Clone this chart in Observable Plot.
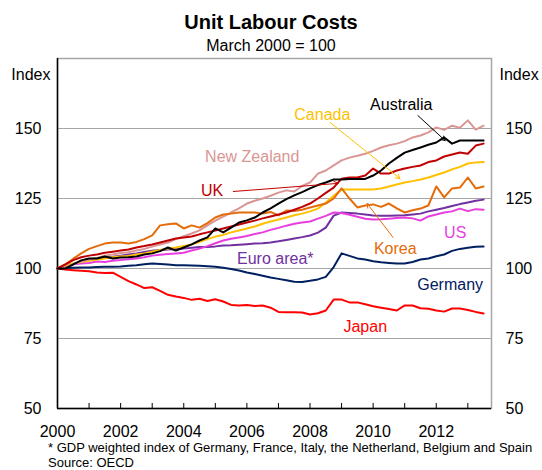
<!DOCTYPE html>
<html><head><meta charset="utf-8">
<script src="https://cdn.jsdelivr.net/npm/d3@7"></script>
<script src="https://cdn.jsdelivr.net/npm/@observablehq/plot@0.6"></script>
<style>
body{margin:0;width:542px;height:470px;position:relative;background:#fff;font-family:"Liberation Sans",Arial,sans-serif;color:#000;overflow:hidden}
#title{position:absolute;left:0;width:542px;top:10px;text-align:center;font-weight:bold;font-size:20px;line-height:24px}
#subtitle{position:absolute;left:0;width:542px;top:36px;text-align:center;font-size:16px;line-height:20px}
#chart{position:absolute;left:0;top:54px}
#note{position:absolute;left:48px;top:440px;font-size:13px;line-height:15px;white-space:nowrap}
</style></head>
<body>
<div id="title">Unit Labour Costs</div>
<div id="subtitle">March 2000 = 100</div>
<div id="chart"></div>
<div id="note">* GDP weighted index of Germany, France, Italy, the Netherland, Belgium and Spain<br>Source: OECD</div>
<script>
// Quarterly observations, March 2000 to September 2013
const quarters = d3.range(55).map(i => 2000 + i / 4);

const japan = [100,99.6,99.4,99.2, 99.0,98.6,98.4,98.5, 97.0,95.5,94.3,93.0, 93.3,92.0,90.6,90.0,
  89.5,88.8,89.2,88.4, 89.0,88.2,87.0,86.8, 87.0,86.6,86.8,86.0, 84.5,84.4,84.4,84.3,
  83.6,84.0,85.0,88.9, 88.9,87.9,87.9,87.2, 86.5,86.0,85.5,85.0, 86.8,86.8,85.8,85.6,
  85.0,84.6,85.7,85.7, 85.2,84.5,83.9];
const germany = [100,100.2,100.3,100.4, 100.4,100.5,100.6,100.6, 100.7,101.0,101.2,101.5, 101.8,101.6,101.4,101.2,
  101.2,101.1,101.0,100.8, 100.6,100.3,99.8,99.3, 98.6,98.0,97.4,96.8, 96.3,95.8,95.3,95.2,
  95.6,96.1,97.0,100.5, 105.4,104.5,103.6,103.2, 102.6,102.2,102.0,101.8, 101.8,102.3,103.2,103.6,
  104.4,105.0,106.3,107.0, 107.4,107.8,107.9];
const euroArea = [100,101.0,101.6,102.3, 103.0,103.6,103.9,104.2, 104.6,105.0,105.4,105.9, 106.3,106.6,106.8,107.0,
  107.1,107.4,107.7,107.7, 107.9,108.2,108.3,108.5, 108.7,108.9,109.0,109.3, 109.7,110.2,110.7,111.2,
  111.8,112.8,114.6,118.9, 120.0,119.8,119.6,119.3, 118.9,118.8,118.8,118.9, 119.0,119.3,119.6,120.4,
  121.0,121.6,122.3,123.0, 123.6,124.2,124.6];
const us = [100,101.0,101.5,101.8, 102.0,102.5,102.3,102.8, 103.0,103.3,103.6,104.0, 104.6,104.9,105.2,105.4,
  105.6,106.4,107.1,108.0, 109.0,110.0,110.6,111.1, 111.6,112.3,112.9,113.8, 114.5,115.3,116.0,116.4,
  116.8,117.8,118.8,120.0, 119.8,119.2,118.5,117.8, 117.5,117.6,117.8,118.0, 118.2,117.9,117.1,118.6,
  119.3,120.0,120.4,121.4, 120.5,121.2,121.0];
const korea = [100,101.5,103.5,105.4, 107.0,108.0,108.9,109.3, 109.3,108.9,109.5,110.5, 111.8,115.4,115.8,116.1,
  114.3,115.4,114.6,116.2, 118.2,119.3,119.6,120.0, 120.0,120.0,119.6,120.2, 119.0,120.7,120.5,121.0,
  121.8,122.5,123.2,125.0, 128.6,125.0,121.8,122.5, 122.9,122.0,123.2,121.5, 120.0,120.8,121.4,122.5,
  129.3,125.4,128.6,128.9, 132.5,128.6,129.3];
const canada = [100,101.0,101.8,102.3, 102.8,103.2,103.6,104.0, 104.3,104.5,105.0,105.4, 106.0,106.6,107.1,107.5,
  108.0,108.6,109.5,110.5, 111.4,112.0,112.9,113.6, 114.3,115.0,116.0,116.8, 117.5,118.2,119.0,119.6,
  120.4,121.4,123.5,126.0, 128.2,128.2,128.2,128.2, 128.2,128.6,129.3,130.0, 130.7,131.2,131.8,132.5,
  133.4,134.3,135.4,136.3, 137.5,137.9,138.0];
const newZealand = [100,100.5,101.5,102.5, 103.2,103.8,104.6,105.0, 105.5,105.8,106.4,107.0, 107.8,108.6,109.3,110.5,
  111.5,112.5,113.6,115.4, 117.1,118.5,120.0,121.5, 123.2,124.2,125.0,126.0, 127.1,127.9,127.5,129.5,
  130.7,133.9,135.0,136.8, 138.6,139.6,140.3,141.0, 142.0,143.2,144.0,144.6, 145.5,146.8,147.5,148.6,
  150.4,149.5,151.0,150.3, 152.9,149.6,151.0];
const uk = [100,101.5,103.0,104.0, 104.6,105.0,105.6,106.0, 106.4,106.8,107.5,108.0, 108.6,109.3,110.0,110.7,
  111.1,111.4,112.2,112.9, 113.6,114.3,115.0,115.7, 116.4,117.1,117.9,118.6, 119.3,120.0,121.0,122.0,
  123.2,125.0,127.0,128.9, 132.1,132.5,132.5,133.2, 135.7,133.9,133.9,135.0, 135.7,136.3,136.8,138.0,
  138.6,140.0,140.7,141.4, 141.0,143.9,144.6];
const australia = [100,100.0,101.5,102.9, 103.6,103.6,104.3,103.6, 103.9,104.0,104.3,105.0, 105.4,106.2,107.5,106.4,
  107.5,108.6,110.0,111.1, 114.3,112.9,114.6,116.4, 117.2,118.2,120.0,121.5, 123.2,124.8,126.1,127.3,
  128.6,129.8,130.7,131.8, 131.8,132.0,132.0,132.0, 133.2,135.0,137.5,139.5, 141.4,142.3,143.2,144.2,
  145.0,146.8,144.6,145.7, 145.7,145.7,145.7];

const seriesNames  = ["Japan","Germany","Euro area*","US","Canada","New Zealand","Korea","UK","Australia"];
const seriesValues = [japan, germany, euroArea, us, canada, newZealand, korea, uk, australia];
const seriesColors = ["#ff0000","#002060","#7030a0","#e83ee0","#ffc000","#da9694","#e46c0a","#c00000","#000000"];

// Label anchors (year, index)
const labelNames = ["Australia","Canada","New Zealand","UK","Korea","US","Euro area*","Germany","Japan"];
const labelX = [2010.89, 2008.39, 2006.17, 2004.9, 2010.7, 2012.6, 2006.9, 2012.44, 2009.75];
const labelY = [158.6, 155, 140, 127.9, 107.1, 112.9, 103.6, 94.3, 79.3];
const labelColors = ["#000000","#ffc000","#da9694","#c00000","#e46c0a","#e83ee0","#7030a0","#002060","#ff0000"];

// Arrows from labels to lines (year, index)
const arrowFromX = [2011.42, 2008.64, 2005.57, 2010.63];
const arrowFromY = [154.6, 152.1, 127.5, 111.1];
const arrowToX   = [2012.28, 2010.85, 2008.89, 2009.81];
const arrowToY   = [145.7, 132.1, 130.4, 123.2];
const arrowColors = ["#000000","#ffc000","#c00000","#e46c0a"];

const yTicks = [50, 75, 100, 125, 150];
const allYears = d3.range(2000, 2014);
const labelYears = [2000, 2002, 2004, 2006, 2008, 2010, 2012];

const lineMarks = seriesNames.map((name, s) =>
  Plot.line(quarters.map((q, i) => ({date: q, value: seriesValues[s][i]})),
    {x: "date", y: "value", stroke: seriesColors[s], strokeWidth: 2})
);

const labels = labelNames.map((n, i) => ({name: n, x: labelX[i], y: labelY[i], color: labelColors[i]}));
const arrows = arrowFromX.map((v, i) => ({x1: v, y1: arrowFromY[i], x2: arrowToX[i], y2: arrowToY[i], color: arrowColors[i]}));

const chart = Plot.plot({
  width: 542, height: 386,
  marginLeft: 57, marginRight: 51, marginTop: 4, marginBottom: 32,
  style: {fontFamily: "'Liberation Sans', Arial, sans-serif", fontSize: "16px", color: "#000", background: "transparent"},
  x: {domain: [2000, 2013.75], label: null},
  y: {domain: [50, 175], label: null},
  marks: [
    Plot.gridY(yTicks.filter(v => v > 50), {stroke: "#a6a6a6", strokeOpacity: 1, strokeWidth: 1.2}),
    Plot.frame({stroke: "#a6a6a6", strokeWidth: 1.5}),
    Plot.axisY(yTicks, {anchor: "left", tickSize: 0, tickPadding: 16, fontSize: 16, label: null}),
    Plot.axisY(yTicks, {anchor: "right", tickSize: 0, tickPadding: 14, fontSize: 16, label: null}),
    Plot.axisX(allYears, {anchor: "bottom", tickSize: 5, dy: -5, tickFormat: () => "", label: null}),
    Plot.axisX(labelYears, {anchor: "bottom", tickSize: 0, tickPadding: 17, fontSize: 16, tickFormat: d => String(d), label: null}),
    Plot.ruleX([2000], {stroke: "#000", strokeWidth: 1.5}),
    Plot.ruleY([50], {stroke: "#000", strokeWidth: 1.5}),
    Plot.text(["Index"], {frameAnchor: "top-left", textAnchor: "end", dx: -7, dy: 10, fontSize: 16}),
    Plot.text(["Index"], {frameAnchor: "top-right", textAnchor: "start", dx: 8, dy: 10, fontSize: 16}),
    ...lineMarks,
    ...arrows.map(a => Plot.arrow([a], {x1: "x1", y1: "y1", x2: "x2", y2: "y2", stroke: a.color, strokeWidth: 1, headLength: 7})),
    ...labels.map(l => Plot.text([l], {x: "x", y: "y", text: "name", fill: l.color, fontSize: 16}))
  ]
});
document.getElementById("chart").appendChild(chart);
</script>
</body></html>
